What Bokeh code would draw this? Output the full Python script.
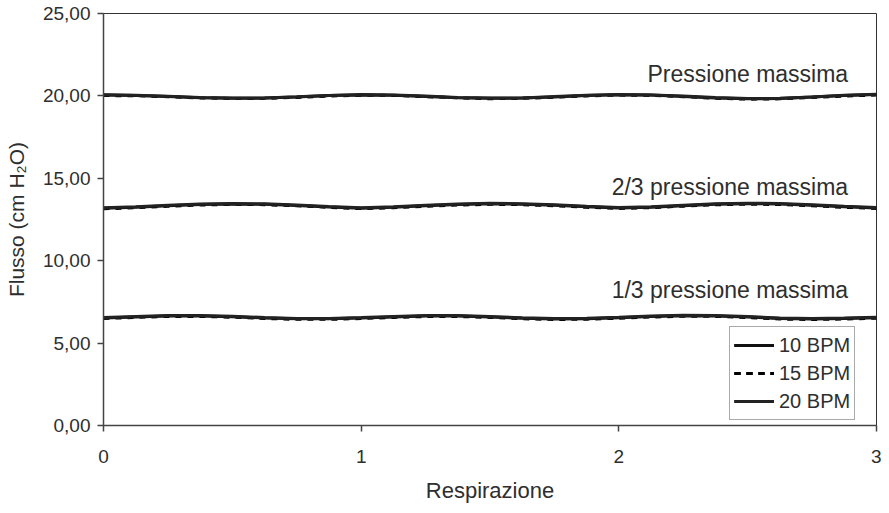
from bokeh.plotting import figure
from bokeh.models import Range1d, FixedTicker
from bokeh.core.properties import value
from bokeh.embed import file_html
from bokeh.resources import INLINE

# ---- data ----
x = [0.0, 0.125, 0.25, 0.375, 0.5, 0.625, 0.75, 0.875,
     1.0, 1.125, 1.25, 1.375, 1.5, 1.625, 1.75, 1.875,
     2.0, 2.125, 2.25, 2.375, 2.5, 2.625, 2.75, 2.875, 3.0]

max_10 = [20.05, 20.03, 19.96, 19.89, 19.85, 19.87, 19.94, 20.02,
          20.06, 20.04, 19.97, 19.89, 19.85, 19.87, 19.94, 20.02,
          20.07, 20.05, 19.97, 19.88, 19.82, 19.84, 19.93, 20.02, 20.08]
max_15 = [20.02, 20.01, 19.95, 19.88, 19.84, 19.85, 19.91, 19.99,
          20.04, 20.03, 19.96, 19.88, 19.83, 19.85, 19.92, 20.00,
          20.05, 20.03, 19.95, 19.86, 19.80, 19.82, 19.90, 19.99, 20.05]
max_20 = [20.07, 20.04, 19.98, 19.91, 19.87, 19.88, 19.95, 20.03,
          20.08, 20.06, 19.99, 19.91, 19.87, 19.88, 19.96, 20.04,
          20.09, 20.06, 19.99, 19.90, 19.84, 19.85, 19.94, 20.04, 20.10]

two_10 = [13.18, 13.24, 13.33, 13.41, 13.44, 13.42, 13.35, 13.26,
          13.19, 13.24, 13.33, 13.41, 13.45, 13.43, 13.36, 13.27,
          13.20, 13.25, 13.34, 13.42, 13.46, 13.44, 13.36, 13.27, 13.20]
two_15 = [13.15, 13.21, 13.30, 13.38, 13.42, 13.40, 13.33, 13.24,
          13.16, 13.21, 13.30, 13.38, 13.42, 13.40, 13.33, 13.24,
          13.17, 13.22, 13.31, 13.39, 13.43, 13.41, 13.33, 13.24, 13.17]
two_20 = [13.21, 13.27, 13.36, 13.44, 13.47, 13.45, 13.38, 13.29,
          13.22, 13.27, 13.36, 13.44, 13.48, 13.46, 13.39, 13.30,
          13.23, 13.28, 13.37, 13.45, 13.49, 13.47, 13.39, 13.30, 13.23]

one_10 = [6.52, 6.59, 6.65, 6.65, 6.60, 6.52, 6.47, 6.47,
          6.52, 6.59, 6.64, 6.64, 6.59, 6.51, 6.46, 6.48,
          6.54, 6.61, 6.66, 6.65, 6.58, 6.49, 6.46, 6.49, 6.54]
one_15 = [6.49, 6.56, 6.62, 6.62, 6.57, 6.49, 6.44, 6.44,
          6.49, 6.56, 6.61, 6.61, 6.56, 6.48, 6.43, 6.45,
          6.51, 6.58, 6.63, 6.62, 6.55, 6.46, 6.43, 6.46, 6.51]
one_20 = [6.55, 6.62, 6.68, 6.68, 6.63, 6.55, 6.50, 6.50,
          6.55, 6.62, 6.67, 6.67, 6.62, 6.54, 6.49, 6.51,
          6.57, 6.64, 6.69, 6.68, 6.61, 6.52, 6.49, 6.52, 6.57]

series_names = ["10 BPM", "15 BPM", "20 BPM"]

y_ticks = [0, 5, 10, 15, 20, 25]
y_tick_labels = ["0,00", "5,00", "10,00", "15,00", "20,00", "25,00"]
x_ticks = [0, 1, 2, 3]
x_tick_labels = ["0", "1", "2", "3"]

ann_text = ["Pressione massima", "2/3 pressione massima", "1/3 pressione massima"]
ann_x = [2.89, 2.89, 2.89]
ann_y = [21.35, 14.45, 8.2]

FONT = "Liberation Sans"
TXT = "#2e2e2e"

p = figure(width=881, height=505, output_backend="svg", toolbar_location=None,
           x_range=Range1d(0, 3), y_range=Range1d(0, 25),
           min_border_left=103, min_border_right=5, min_border_top=13,
           min_border_bottom=78)
p.background_fill_color = "white"
p.border_fill_color = "white"
p.outline_line_color = "#333333"
p.outline_line_width = 1
p.xgrid.visible = False
p.ygrid.visible = False

groups = [(max_10, max_15, max_20), (two_10, two_15, two_20), (one_10, one_15, one_20)]
for g in groups:
    p.line(x, g[1], line_color="black", line_width=3, line_dash="6 6",
           legend_label=series_names[1])
    p.line(x, g[0], line_color="#111111", line_width=3, legend_label=series_names[0])
    p.line(x, g[2], line_color="#222222", line_width=3, legend_label=series_names[2])

p.text(x=ann_x, y=ann_y, text=ann_text, text_align="right", text_baseline="middle",
       text_font=value(FONT), text_font_size="23px", text_color=TXT)

for ax in (p.xaxis[0], p.yaxis[0]):
    ax.axis_line_color = "#444444"
    ax.axis_line_width = 1.5
    ax.major_tick_line_color = "#444444"
    ax.major_tick_line_width = 1.5
    ax.major_tick_out = 6
    ax.major_tick_in = 0
    ax.minor_tick_out = 0
    ax.minor_tick_in = 0
    ax.major_label_text_font = FONT
    ax.major_label_text_font_size = "19px"
    ax.major_label_text_color = TXT
    ax.axis_label_text_font = FONT
    ax.axis_label_text_font_style = "normal"
    ax.axis_label_text_color = TXT

p.xaxis.ticker = FixedTicker(ticks=x_ticks)
p.xaxis.major_label_overrides = {t: l for t, l in zip(x_ticks, x_tick_labels)}
p.xaxis.axis_label = "Respirazione"
p.xaxis.axis_label_text_font_size = "22px"
p.xaxis.major_label_standoff = 18
p.xaxis.axis_label_standoff = 12

p.yaxis.ticker = FixedTicker(ticks=y_ticks)
p.yaxis.major_label_overrides = {t: l for t, l in zip(y_ticks, y_tick_labels)}
p.yaxis.axis_label = "Flusso (cm H\u2082O)"
p.yaxis.axis_label_text_font_size = "21px"
p.yaxis.major_label_standoff = 7
p.yaxis.axis_label_standoff = 12

leg = p.legend[0]
leg.location = (626, 5)
leg.margin = 0
leg.padding = 4
leg.spacing = 0
leg.glyph_width = 40
leg.glyph_height = 28
leg.label_height = 28
leg.label_standoff = 5
leg.label_text_font = FONT
leg.label_text_font_size = "20px"
leg.label_text_color = TXT
leg.border_line_color = "#555555"
leg.border_line_width = 1
leg.background_fill_alpha = 1.0
items = {it.label.value: it for it in leg.items}
leg.items = [items[n] for n in series_names]

open("out.html", "w").write(file_html(p, INLINE))
